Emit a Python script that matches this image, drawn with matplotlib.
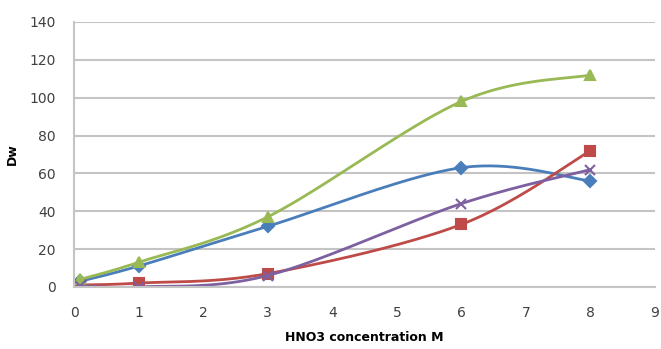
import numpy as np
import matplotlib
matplotlib.use("Agg")
import matplotlib.pyplot as plt

# Data
conc = [0.1, 1, 3, 6, 8]
blue_dw = [3, 11, 32, 63, 56]
red_dw = [1, 2, 7, 33, 72]
green_dw = [4, 13, 37, 98, 112]
purple_dw = [0.5, 0, 6, 44, 62]


def smooth(xs, ys, n=40):
    """Excel-style smoothed line (cubic Bezier, tension 1/6)."""
    p = np.column_stack([xs, ys]).astype(float)
    p = np.vstack([p[0], p, p[-1]])
    out = []
    for i in range(1, len(p) - 2):
        p0, p1, p2, p3 = p[i - 1], p[i], p[i + 1], p[i + 2]
        c1 = p1 + (p2 - p0) / 6
        c2 = p2 - (p3 - p1) / 6
        t = np.linspace(0, 1, n)[:, None]
        seg = ((1 - t) ** 3) * p1 + 3 * ((1 - t) ** 2) * t * c1 + 3 * (1 - t) * t ** 2 * c2 + t ** 3 * p2
        out.append(seg)
    seg = np.vstack(out)
    return seg[:, 0], seg[:, 1]


fig = plt.figure(figsize=(6.61, 3.49), dpi=100)
ax = fig.add_axes([0.112, 0.178, 0.879, 0.759])

series = [
    (blue_dw, "#4a7ebb", "D", 6),
    (red_dw, "#be4b48", "s", 7),
    (green_dw, "#98b954", "^", 7),
    (purple_dw, "#7d60a0", "x", 7),
]
for ys, color, marker, ms in series:
    sx, sy = smooth(conc, ys)
    ax.plot(sx, sy, color=color, lw=2.0, solid_capstyle="round")
    ax.plot(conc, ys, ls="none", marker=marker, color=color, ms=ms, mew=1.5)

ax.set_xlim(0, 9)
ax.set_ylim(0, 140)
ax.set_xticks(range(0, 10))
ax.set_yticks(range(0, 141, 20))
ax.yaxis.grid(True, color="#c4c4c4", lw=1.5)
ax.set_axisbelow(True)
for s in ["top", "right"]:
    ax.spines[s].set_visible(False)
ax.spines["left"].set_color("#c4c4c4")
ax.spines["bottom"].set_color("#c4c4c4")
ax.spines["left"].set_linewidth(1.5)
ax.spines["bottom"].set_linewidth(1.5)
ax.tick_params(axis="y", length=0, labelsize=10, colors="#404040", pad=13)
ax.tick_params(axis="x", length=0, labelsize=10, colors="#404040", pad=14)

ax.set_xlabel("HNO3 concentration M", fontsize=9, fontweight="bold", labelpad=8)
ax.set_ylabel("Dw", fontsize=9, fontweight="bold", labelpad=8)

fig.savefig("out.png", dpi=100)
